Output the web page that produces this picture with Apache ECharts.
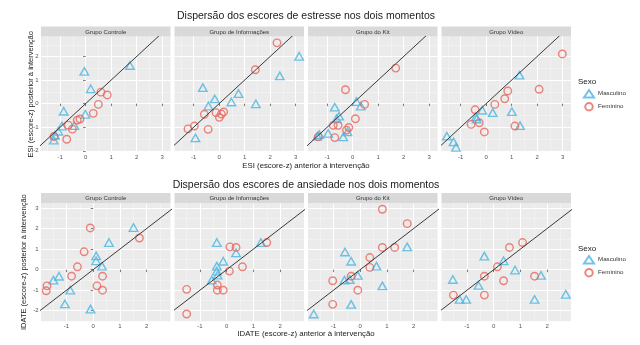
<!DOCTYPE html>
<html><head><meta charset="utf-8">
<script src="https://cdn.jsdelivr.net/npm/echarts@6/dist/echarts.min.js"></script>
<style>html,body{margin:0;padding:0;background:#fff}#c{width:640px;height:345px}</style>
</head><body><div id="c"></div>
<script>
const groups = ['Grupo Controle', 'Grupo de Informações', 'Grupo do Kit', 'Grupo Vídeo'];
const sexes = ['Masculino', 'Feminino'];
const rowTitles = ['Dispersão dos escores de estresse nos dois momentos', 'Dispersão dos escores de ansiedade nos dois momentos'];
const xTitles = ['ESI (escore-z) anterior à intervenção', 'IDATE (escore-z) anterior à intervenção'];
const yTitles = ['ESI (escore-z) posterior à intervenção', 'IDATE (escore-z) posterior à intervenção'];
const legendTitle = 'Sexo';
const xTicksTop = [-1, 0, 1, 2, 3];
const yTicksTop = [-2, -1, 0, 1, 2];
const xMinorTop = [-1.5, -0.5, 0.5, 1.5, 2.5];
const yMinorTop = [-1.5, -0.5, 0.5, 1.5, 2.5];
const xTicksBottom = [-1, 0, 1, 2];
const yTicksBottom = [-2, -1, 0, 1, 2, 3];
const xMinorBottom = [-1.5, -0.5, 0.5, 1.5, 2.5];
const yMinorBottom = [-2.5, -1.5, -0.5, 0.5, 1.5, 2.5];
const refLine = [[-4, -4], [5, 5]];

// ESI (estresse)
const esiControleMasc = [[-0.05,1.37],[0.2,0.63],[1.74,1.62],[-0.86,-0.32],[-0.01,-0.45],[-0.44,-0.93],[-0.93,-0.95],[-1.07,-1.17],[-1.2,-1.34],[-1.25,-1.55]];
const esiControleFem = [[0.6,0.49],[0.85,0.37],[0.5,-0.03],[0.3,-0.41],[-0.22,-0.65],[-0.33,-0.7],[-0.52,-1.08],[-0.68,-0.91],[-0.74,-1.51],[-1.24,-1.39]];
const esiInfoMasc = [[-0.64,0.68],[-0.17,0.2],[-0.42,-0.1],[0.48,0.07],[0.76,0.43],[1.44,-0.01],[2.38,1.18],[3.14,2.01],[-0.93,-1.45]];
const esiInfoFem = [[2.27,2.58],[1.42,1.44],[0.18,-0.35],[0.09,-0.44],[0.01,-0.58],[-0.12,-0.38],[-0.58,-0.45],[-0.43,-1.09],[-0.97,-0.95],[-1.22,-1.07]];
const esiKitMasc = [[0.15,0.09],[0.32,-0.1],[-0.7,-0.15],[-0.53,-0.53],[-0.63,-0.64],[-0.96,-1.26],[-1.31,-1.31],[-0.2,-1.19],[-0.37,-1.41],[-1.38,-1.38]];
const esiKitFem = [[1.69,1.51],[-0.28,0.59],[0.47,-0.03],[0.11,-0.64],[-0.15,-1.01],[-0.24,-1.12],[-0.57,-0.92],[-0.76,-0.92],[-0.7,-1.44],[-1.35,-1.41]];
const esiVideoMasc = [[1.31,1.21],[-0.15,-0.28],[0.26,-0.38],[1.01,-0.34],[-0.4,-0.56],[-0.37,-0.65],[1.33,-0.93],[-1.54,-1.38],[-1.28,-1.62],[-1.18,-1.85]];
const esiVideoFem = [[2.99,2.11],[2.08,0.61],[0.85,0.54],[0.73,0.21],[0.34,-0.03],[-0.43,-0.26],[-0.27,-0.81],[-0.59,-0.88],[-0.07,-1.2],[1.13,-0.95]];

// IDATE (ansiedade)
const idateControleMasc = [[1.51,2.05],[0.59,1.32],[0.11,0.67],[0.11,0.43],[0.33,0.17],[-1.28,-0.32],[-1.49,-0.51],[-0.86,-1.0],[-1.06,-1.67],[-0.1,-1.92]];
const idateControleFem = [[-0.11,2.03],[1.73,1.54],[-0.34,0.87],[-0.59,0.14],[-0.81,-0.32],[0.35,-0.32],[0.14,-0.79],[0.35,-1.0],[-1.73,-0.79],[-1.76,-1.03]];
const idateInfoMasc = [[-0.37,1.32],[1.28,1.32],[0.35,0.82],[-0.13,0.41],[-0.37,0.17],[-0.37,-0.07],[-0.34,-0.27],[-0.56,-0.51]];
const idateInfoFem = [[1.5,1.32],[0.12,1.11],[0.35,1.08],[0.59,0.14],[0.1,-0.07],[-0.35,-0.75],[-0.35,-1.0],[-0.13,-1.0],[-1.5,-0.96],[-1.5,-2.16]];
const idateKitMasc = [[1.76,1.11],[-0.57,0.86],[-0.34,0.41],[0.61,0.17],[-0.09,-0.28],[-0.39,-0.48],[-0.59,-0.51],[0.83,-0.79],[-0.34,-1.69],[-1.74,-2.16]];
const idateKitFem = [[0.83,2.94],[1.76,2.24],[0.83,1.08],[1.29,1.08],[0.36,0.59],[0.36,0.11],[-0.34,-0.32],[-1.03,-0.54],[-0.09,-1.0],[-1.03,-1.69]];
const idateVideoMasc = [[-0.35,0.66],[0.37,0.43],[0.8,-0.02],[1.77,-0.28],[-1.53,-0.48],[-0.57,-0.77],[-1.28,-1.45],[-1.03,-1.45],[1.53,-1.45],[2.7,-1.2]];
const idateVideoFem = [[1.08,1.32],[0.59,1.08],[0.14,0.14],[-0.35,-0.32],[0.37,-0.54],[1.53,-0.32],[-0.35,-1.24],[-1.51,-1.24]];

const FONT = '"Liberation Sans", Arial, sans-serif';
const BLUE = '#4AB5E2', RED = '#E8675E';
const lefts = [41, 174.5, 308, 441.5];
const panelW = 129.5;
const rows = [
  {top: 36.5, height: 115.5, stripTop: 26.5, xMin: -1.75, xMax: 3.33, yMin: -2.05, yMax: 2.85,
   xTicks: xTicksTop, yTicks: yTicksTop, xMinor: xMinorTop, yMinor: yMinorTop,
   data: [[esiControleMasc, esiControleFem], [esiInfoMasc, esiInfoFem], [esiKitMasc, esiKitFem], [esiVideoMasc, esiVideoFem]],
   titleY: 16, xTitleY: 166, yTitleX: 31, legendTop: 89, legendTitleY: 82},
  {top: 203.3, height: 117.7, stripTop: 193, xMin: -1.955, xMax: 2.895, yMin: -2.5, yMax: 3.23,
   xTicks: xTicksBottom, yTicks: yTicksBottom, xMinor: xMinorBottom, yMinor: yMinorBottom,
   data: [[idateControleMasc, idateControleFem], [idateInfoMasc, idateInfoFem], [idateKitMasc, idateKitFem], [idateVideoMasc, idateVideoFem]],
   titleY: 185, xTitleY: 334, yTitleX: 24, legendTop: 255, legendTitleY: 249}
];

const grid = [], xAxis = [], yAxis = [], series = [], graphic = [], legend = [];
rows.forEach((row, r) => {
  row.data.forEach((pair, c) => {
    const gi = r * 4 + c;
    grid.push({left: lefts[c], top: row.top, width: panelW, height: row.height, show: true,
      backgroundColor: '#EBEBEB', borderWidth: 0, containLabel: false});
    const tickStyle = {show: true, length: 2.5, lineStyle: {color: '#444', width: 0.7}};
    // major x
    xAxis.push({gridIndex: gi, type: 'value', min: row.xMin, max: row.xMax, z: 3,
      axisLine: {show: false},
      axisTick: Object.assign({customValues: row.xTicks, inside: false}, tickStyle),
      axisLabel: {customValues: row.xTicks, fontSize: 6, color: '#555', margin: 2.5, fontFamily: FONT},
      splitLine: {show: true, lineStyle: {color: '#FFFFFF', width: 1}}});
    // minor x
    xAxis.push({gridIndex: gi, type: 'value', min: row.xMin, max: row.xMax, z: 2,
      axisLine: {show: false}, axisTick: {show: false, customValues: row.xMinor}, axisLabel: {show: false, customValues: row.xMinor},
      splitLine: {show: true, lineStyle: {color: '#F7F7F7', width: 0.5}}});
    yAxis.push({gridIndex: gi, type: 'value', min: row.yMin, max: row.yMax, z: 3,
      axisLine: {show: false},
      axisTick: Object.assign({customValues: row.yTicks}, tickStyle, {show: c === 0}),
      axisLabel: {show: c === 0, customValues: row.yTicks, fontSize: 6, color: '#555', margin: 2.5, fontFamily: FONT},
      splitLine: {show: true, lineStyle: {color: '#FFFFFF', width: 1}}});
    yAxis.push({gridIndex: gi, type: 'value', min: row.yMin, max: row.yMax, z: 2,
      axisLine: {show: false}, axisTick: {show: false, customValues: row.yMinor}, axisLabel: {show: false, customValues: row.yMinor},
      splitLine: {show: true, lineStyle: {color: '#F7F7F7', width: 0.5}}});
    const xi = gi * 2, yi = gi * 2;
    series.push({type: 'scatter', name: sexes[0], xAxisIndex: xi, yAxisIndex: yi, data: pair[0],
      symbol: 'triangle', symbolSize: [8.5, 7.5], silent: true,
      itemStyle: {color: 'rgba(0,0,0,0)', borderColor: BLUE, borderWidth: 1.4}, z: 4});
    series.push({type: 'scatter', name: sexes[1], xAxisIndex: xi, yAxisIndex: yi, data: pair[1],
      symbol: 'circle', symbolSize: 7.5, silent: true,
      itemStyle: {color: 'rgba(0,0,0,0)', borderColor: RED, borderWidth: 1.4}, z: 4});
    series.push({type: 'line', xAxisIndex: xi, yAxisIndex: yi, data: refLine, symbol: 'none', clip: true,
      silent: true, lineStyle: {color: '#3A3A3A', width: 1}, z: 5});
    // strip
    graphic.push({type: 'rect', shape: {x: lefts[c], y: row.stripTop, width: panelW, height: row.top - row.stripTop},
      style: {fill: '#D9D9D9'}, silent: true});
    graphic.push({type: 'text', x: lefts[c] + panelW / 2, y: (row.stripTop + row.top) / 2 + 0.5,
      style: {text: groups[c], fontSize: 6, fill: '#333', align: 'center', verticalAlign: 'middle', fontFamily: FONT}, silent: true});
  });
  graphic.push({type: 'text', x: 306, y: row.titleY,
    style: {text: rowTitles[r], fontSize: 10.5, fill: '#1A1A1A', align: 'center', verticalAlign: 'middle', fontFamily: FONT}});
  graphic.push({type: 'text', x: 306, y: row.xTitleY,
    style: {text: xTitles[r], fontSize: 7.8, fill: '#1A1A1A', align: 'center', verticalAlign: 'middle', fontFamily: FONT}});
  graphic.push({type: 'text', x: row.yTitleX, y: row.top + row.height / 2, rotation: Math.PI / 2,
    style: {text: yTitles[r], fontSize: 7.5, fill: '#1A1A1A', align: 'center', verticalAlign: 'middle', fontFamily: FONT}});
  graphic.push({type: 'text', x: 578, y: row.legendTitleY,
    style: {text: legendTitle, fontSize: 8, fill: '#1A1A1A', align: 'left', verticalAlign: 'middle', fontFamily: FONT}});
  legend.push({data: sexes, orient: 'vertical', left: 583, top: row.legendTop, itemWidth: 10, itemHeight: 7.5, itemGap: 3.5,
    textStyle: {fontSize: 6.2, color: '#333', fontFamily: FONT, padding: [0, 0, 0, -1]}, selectedMode: false, padding: 0});
});

const chart = echarts.init(document.getElementById('c'), null, {renderer: 'canvas'});
chart.setOption({animation: false, backgroundColor: '#FFFFFF', grid, xAxis, yAxis, series, graphic, legend});
</script></body></html>
